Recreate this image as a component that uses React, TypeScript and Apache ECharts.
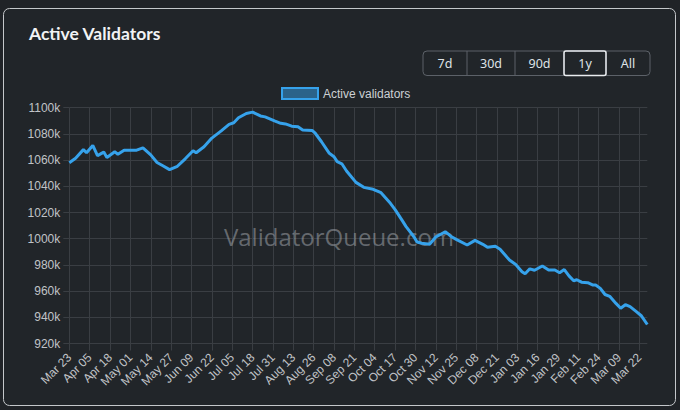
import React, { useEffect, useRef } from "react";
import * as echarts from "echarts";

// Day offsets from Mar 23 (first category) and active validators in thousands
const dayOffsets = [
  0, 4, 9, 11, 15, 18, 22, 24, 29, 31, 35, 43, 47, 52, 56, 60, 64, 69, 74, 79,
  81, 86, 91, 97, 102, 105, 108, 113, 117, 120, 122, 125, 131, 135, 138, 142,
  146, 149, 155, 157, 161, 166, 169, 171, 174, 177, 183, 188, 194, 199, 205,
  208, 213, 215, 220, 222, 225, 230, 234, 240, 242, 244, 247, 254, 259, 264,
  267, 272, 275, 281, 285, 289, 291, 294, 297, 302, 306, 310, 313, 316, 319,
  322, 324, 327, 331, 334, 336, 339, 342, 345, 349, 352, 355, 358, 362, 365,
  369,
];
const activeValidatorsK = [
  1058, 1061.4, 1068, 1065.6, 1071.2, 1063.4, 1066.1, 1062, 1066.4, 1064.4,
  1067.5, 1067.6, 1069.4, 1064, 1058.2, 1055.5, 1052.7, 1055.3, 1061, 1067.2,
  1065.6, 1070.2, 1076.8, 1082.3, 1087.3, 1088.5, 1092.3, 1095.6, 1096.6,
  1094.9, 1093.7, 1093, 1090, 1088.1, 1087.6, 1085.9, 1085.4, 1083, 1082.6,
  1080.5, 1074, 1065.2, 1062.6, 1058.8, 1057.2, 1051.7, 1043, 1039.2, 1037.7,
  1035.1, 1027, 1022.2, 1013, 1009.2, 1001.5, 997.5, 996.5, 995.8, 1001.3,
  1005.3, 1003.5, 1001.5, 999.5, 995.2, 998.7, 995.7, 993.4, 994.2, 992,
  983.7, 980.3, 974.8, 973.2, 977, 975.9, 979.2, 976.1, 976.1, 974, 976.4,
  971.6, 967.9, 968.7, 966.8, 966.4, 964.7, 964.7, 962.1, 957.4, 956, 950.6,
  946.9, 949.6, 948.1, 944.3, 941.4, 934.5,
];
const tickLabels = [
  "Mar 23", "Apr 05", "Apr 18", "May 01", "May 14", "May 27", "Jun 09",
  "Jun 22", "Jul 05", "Jul 18", "Jul 31", "Aug 13", "Aug 26", "Sep 08",
  "Sep 21", "Oct 04", "Oct 17", "Oct 30", "Nov 12", "Nov 25", "Dec 08",
  "Dec 21", "Jan 03", "Jan 16", "Jan 29", "Feb 11", "Feb 24", "Mar 09",
  "Mar 22",
];
const tickStepDays = 13;
const lastDay = 369;
const rangeButtons = ["7d", "30d", "90d", "1y", "All"];
const activeRange = "1y";
const seriesName = "Active validators";

const GRID = "#3a3e43";
const AXIS_TEXT = "#c0c3c7";
const FONT = "'Liberation Sans', Arial, sans-serif";
const UI_FONT = "'Noto Sans', 'Open Sans', sans-serif";

export default function App() {
  const ref = useRef<HTMLDivElement>(null);

  useEffect(() => {
    if (!ref.current) return;
    const chart = echarts.init(ref.current, null, { renderer: "svg" });

    const tickValues = tickLabels.map((_, i) => i * tickStepDays);
    const btnEdges = [423, 467, 515, 564, 606, 650];
    const btnTop = 51;
    const btnH = 24.5;

    const graphics: any[] = [
      {
        type: "rect",
        z: -10,
        silent: true,
        shape: { x: 3.5, y: 8.5, width: 672, height: 397, r: 6 },
        style: { fill: "#212529", stroke: "#c4c7ca", lineWidth: 1 },
      },
      {
        type: "text",
        x: 29,
        y: 33.5,
        style: {
          text: "Active Validators",
          fill: "#f1f3f5",
          font: `bold 17.5px Lato, ${UI_FONT}`,
          verticalAlign: "middle",
          align: "left",
        },
      },
      {
        type: "rect",
        shape: {
          x: btnEdges[0],
          y: btnTop,
          width: btnEdges[5] - btnEdges[0],
          height: btnH,
          r: 4,
        },
        style: { fill: "none", stroke: "#5c6168", lineWidth: 1 },
      },
      {
        type: "text",
        z: 1,
        silent: true,
        x: 339,
        y: 236,
        style: {
          text: "ValidatorQueue.com",
          fill: "rgba(160,164,170,0.55)",
          font: `24px 'Open Sans', sans-serif`,
          align: "center",
          verticalAlign: "middle",
        },
      },
    ];
    rangeButtons.forEach((label, i) => {
      const x0 = btnEdges[i];
      const x1 = btnEdges[i + 1];
      if (i > 0) {
        graphics.push({
          type: "line",
          shape: { x1: x0, y1: btnTop, x2: x0, y2: btnTop + btnH },
          style: { stroke: "#5c6168", lineWidth: 1 },
        });
      }
      if (label === activeRange) {
        graphics.push({
          type: "rect",
          z: 2,
          shape: { x: x0, y: btnTop, width: x1 - x0, height: btnH, r: 2 },
          style: { fill: "none", stroke: "#e9ecef", lineWidth: 1.5 },
        });
      }
      graphics.push({
        type: "text",
        x: (x0 + x1) / 2,
        y: btnTop + btnH / 2,
        style: {
          text: label,
          fill: "#dee2e6",
          font: `12.5px ${UI_FONT}`,
          align: "center",
          verticalAlign: "middle",
        },
      });
    });

    chart.setOption({
      animation: false,
      backgroundColor: "#202327",
      graphic: graphics,
      legend: {
        left: 281,
        top: 87,
        padding: 0,
        itemWidth: 36,
        itemHeight: 11,
        textStyle: { color: "#ccd0d4", fontSize: 12, fontFamily: FONT },
        data: [
          {
            name: seriesName,
            icon: "rect",
            itemStyle: {
              color: "rgba(54,162,235,0.5)",
              borderColor: "#36a2eb",
              borderWidth: 2,
            },
          },
        ],
      },
      grid: { left: 69.3, right: 32.7, top: 107.7, bottom: 66.5 },
      xAxis: {
        type: "value",
        min: 0,
        max: lastDay,
        interval: tickStepDays,
        axisLine: { show: false },
        axisTick: {
          show: true,
          length: 7,
          customValues: tickValues,
          lineStyle: { color: GRID },
        },
        axisLabel: {
          customValues: tickValues,
          rotate: 45,
          margin: 12,
          color: AXIS_TEXT,
          fontSize: 12,
          fontFamily: FONT,
          formatter: (v: number) => {
            const i = Math.round(v / tickStepDays);
            return v % tickStepDays === 0 && tickLabels[i] ? tickLabels[i] : "";
          },
        },
        splitLine: { show: true, lineStyle: { color: GRID, width: 1 } },
      },
      yAxis: {
        type: "value",
        min: 920,
        max: 1100,
        interval: 20,
        axisLine: { show: false },
        axisTick: { show: true, length: 6, lineStyle: { color: GRID } },
        axisLabel: {
          color: AXIS_TEXT,
          fontSize: 12,
          fontFamily: FONT,
          margin: 9,
          formatter: (v: number) => `${v}k`,
        },
        splitLine: { show: true, lineStyle: { color: GRID, width: 1 } },
      },
      series: [
        {
          name: seriesName,
          type: "line",
          z: 3,
          showSymbol: false,
          data: dayOffsets.map((d, i) => [d, activeValidatorsK[i]]),
          lineStyle: { color: "#36a2eb", width: 3 },
          itemStyle: { color: "#36a2eb" },
        },
      ],
    });

    return () => chart.dispose();
  }, []);

  return (
    <div
      ref={ref}
      style={{ position: "fixed", left: 0, top: 0, width: 680, height: 410 }}
    />
  );
}
